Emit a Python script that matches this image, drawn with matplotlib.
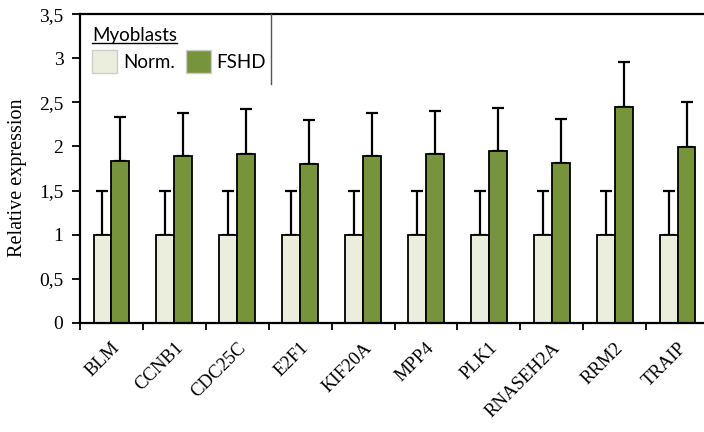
import matplotlib
matplotlib.use("Agg")
import matplotlib.pyplot as plt
from matplotlib.patches import Patch
from matplotlib.lines import Line2D
import numpy as np

genes = ["BLM", "CCNB1", "CDC25C", "E2F1", "KIF20A", "MPP4", "PLK1", "RNASEH2A", "RRM2", "TRAIP"]
norm = [1, 1, 1, 1, 1, 1, 1, 1, 1, 1]
norm_err = [0.5, 0.5, 0.5, 0.5, 0.5, 0.5, 0.5, 0.5, 0.5, 0.5]
fshd = [1.83, 1.89, 1.92, 1.80, 1.89, 1.91, 1.95, 1.81, 2.45, 1.99]
fshd_err = [0.50, 0.49, 0.50, 0.50, 0.49, 0.49, 0.49, 0.50, 0.51, 0.51]
yticks = [0, 0.5, 1, 1.5, 2, 2.5, 3, 3.5]
ytick_labels = ["0", "0,5", "1", "1,5", "2", "2,5", "3", "3,5"]

norm_color = "#EBEEDD"
fshd_color = "#77933C"
sans = ["Lato", "DejaVu Sans"]

plt.rcParams["font.family"] = ["Liberation Serif", "DejaVu Serif"]

fig = plt.figure(figsize=(7.04, 4.32), dpi=100)
ax = fig.add_axes([80 / 704, 1 - 322.7 / 432, 629 / 704, 308.4 / 432])

x = np.arange(len(genes)) + 0.5
w = 0.285

ax.errorbar(x - w / 2, norm, yerr=[np.zeros(len(norm)), norm_err], fmt="none",
            ecolor="black", elinewidth=1.6, capsize=4.5, capthick=1.6, zorder=1)
ax.errorbar(x + w / 2, fshd, yerr=[np.zeros(len(fshd)), fshd_err], fmt="none",
            ecolor="black", elinewidth=1.6, capsize=4.5, capthick=1.6, zorder=1)
ax.bar(x - w / 2, norm, w, color=norm_color, edgecolor="black", linewidth=1.3, zorder=2)
ax.bar(x + w / 2, fshd, w, color=fshd_color, edgecolor="black", linewidth=1.3, zorder=2)

ax.set_xlim(0, len(genes))
ax.set_ylim(0, 3.5)

ax.tick_params(axis="y", length=6, width=1.3, pad=6, labelsize=14)
ax.tick_params(axis="x", which="major", length=5, width=1.3)
ax.tick_params(axis="x", which="minor", length=0, pad=12, labelsize=13.5)

ax.set_yticks(yticks)
ax.set_yticklabels(ytick_labels)

ax.set_xticks(np.arange(len(genes) + 1))
ax.set_xticklabels([])
ax.set_xticks(x, minor=True)
ax.set_xticklabels(genes, minor=True, rotation=45, ha="right", rotation_mode="anchor")

ax.set_ylabel("Relative expression", fontsize=14.5, va="center")
ax.yaxis.set_label_coords(-0.1, 0.47)

for s in ["left", "bottom", "top"]:
    ax.spines[s].set_linewidth(1.6)
ax.spines["right"].set_visible(False)

# legend
handles = [Patch(facecolor=norm_color, edgecolor="#cccccc", label="Norm."),
           Patch(facecolor=fshd_color, edgecolor="#cccccc", label="FSHD")]
leg = ax.legend(handles=handles, ncol=2, loc="upper left", bbox_to_anchor=(-0.002, 1.0),
                frameon=False, title="Myoblasts", alignment="left",
                prop={"family": sans, "size": 13.5},
                title_fontproperties={"family": sans, "size": 13.5},
                handlelength=1.35, handleheight=1.5, handletextpad=0.3,
                columnspacing=0.6, borderaxespad=0.3, labelspacing=0.3)

fig.canvas.draw()
r = fig.canvas.get_renderer()
tb = leg.get_title().get_window_extent(r)
inv = fig.transFigure.inverted()
(x0, y0), (x1, _) = inv.transform([(tb.x0, tb.y0 + 1), (tb.x1, tb.y0)])
fig.add_artist(Line2D([x0, x1], [y0, y0], color="black", linewidth=1.0, transform=fig.transFigure))
# legend box right edge
fig.add_artist(Line2D([271 / 704, 271 / 704], [1 - 14 / 432, 1 - 84 / 432], color="#555555",
                      linewidth=1.0, transform=fig.transFigure))

fig.savefig("out.png", dpi=100)
